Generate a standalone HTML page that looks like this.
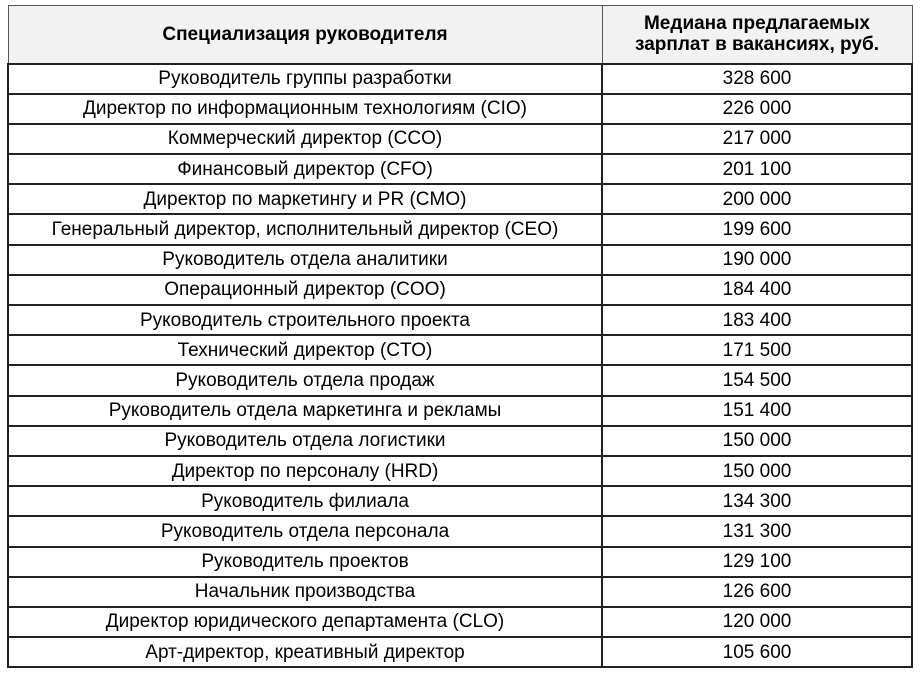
<!DOCTYPE html>
<html><head><meta charset="utf-8"><style>
html,body{margin:0;padding:0;background:#fff;width:922px;height:674px;overflow:hidden}
table{position:absolute;left:7px;top:5px;border-collapse:collapse;font-family:"Liberation Sans",sans-serif;color:#000;table-layout:fixed;width:906px}
td,th{border:2px solid #222;padding:0;text-align:center;font-size:19px;height:28.2px;line-height:20px;padding-top:1px;box-sizing:border-box}
td{height:30.2px}
th{background:#f2f2f2;font-weight:bold;height:58px;border:1px solid #555;border-bottom:2px solid #222;line-height:21px;font-size:19px;padding-top:0}
col.a{width:594px}
</style></head><body>
<table>
<colgroup><col class="a"><col></colgroup>
<tr><th>Специализация руководителя</th><th>Медиана предлагаемых<br>зарплат в вакансиях, руб.</th></tr>
<tr><td>Руководитель группы разработки</td><td>328 600</td></tr>
<tr><td>Директор по информационным технологиям (CIO)</td><td>226 000</td></tr>
<tr><td>Коммерческий директор (CCO)</td><td>217 000</td></tr>
<tr><td>Финансовый директор (CFO)</td><td>201 100</td></tr>
<tr><td>Директор по маркетингу и PR (CMO)</td><td>200 000</td></tr>
<tr><td>Генеральный директор, исполнительный директор (CEO)</td><td>199 600</td></tr>
<tr><td>Руководитель отдела аналитики</td><td>190 000</td></tr>
<tr><td>Операционный директор (COO)</td><td>184 400</td></tr>
<tr><td>Руководитель строительного проекта</td><td>183 400</td></tr>
<tr><td>Технический директор (CTO)</td><td>171 500</td></tr>
<tr><td>Руководитель отдела продаж</td><td>154 500</td></tr>
<tr><td>Руководитель отдела маркетинга и рекламы</td><td>151 400</td></tr>
<tr><td>Руководитель отдела логистики</td><td>150 000</td></tr>
<tr><td>Директор по персоналу (HRD)</td><td>150 000</td></tr>
<tr><td>Руководитель филиала</td><td>134 300</td></tr>
<tr><td>Руководитель отдела персонала</td><td>131 300</td></tr>
<tr><td>Руководитель проектов</td><td>129 100</td></tr>
<tr><td>Начальник производства</td><td>126 600</td></tr>
<tr><td>Директор юридического департамента (CLO)</td><td>120 000</td></tr>
<tr><td>Арт-директор, креативный директор</td><td>105 600</td></tr>
</table>
</body></html>
